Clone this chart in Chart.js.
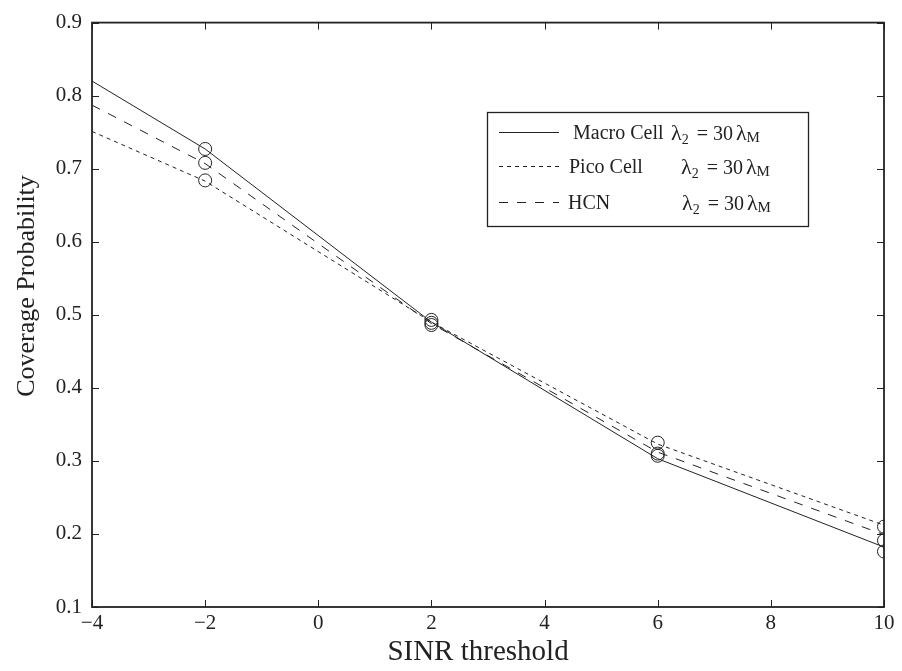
<!DOCTYPE html>
<html>
<head>
<meta charset="utf-8">
<script src="https://cdn.jsdelivr.net/npm/chart.js@4/dist/chart.umd.min.js"></script>
<style>
html,body{margin:0;padding:0;background:#fff;}
#wrap{width:902px;height:671px;}
</style>
</head>
<body>
<div id="wrap"><canvas id="c" width="902" height="671"></canvas></div>
<script>
// ---- data ----
const xLine = [-4, -2, 2, 6, 10];
const macroLine = [0.820, 0.727, 0.490, 0.303, 0.182];
const picoLine  = [0.751, 0.683, 0.490, 0.323, 0.212];
const hcnLine   = [0.787, 0.707, 0.488, 0.312, 0.199];

const xSim = [-2, 2, 6, 10];
const macroSim = [0.727, 0.486, 0.307, 0.176];
const picoSim  = [0.684, 0.493, 0.325, 0.210];
const hcnSim   = [0.708, 0.489, 0.310, 0.191];

const xTicks = [-4, -2, 0, 2, 4, 6, 8, 10];
const yTicks = [0.1, 0.2, 0.3, 0.4, 0.5, 0.6, 0.7, 0.8, 0.9];

const seriesNames = ['Macro Cell', 'Pico Cell', 'HCN'];
const xTitle = 'SINR threshold';
const yTitle = 'Coverage Probability';

const FONT = '"Liberation Serif", "Times New Roman", serif';

function pts(xs, ys){ return xs.map((x,i)=>({x:x, y:ys[i]})); }

const lineStyle = {borderColor:'#222', borderWidth:1, pointRadius:0, showLine:true, fill:false, tension:0};
const simStyle = {showLine:false, pointStyle:'circle', pointRadius:6.5, pointBorderColor:'#222', pointBackgroundColor:'rgba(0,0,0,0)', pointBorderWidth:1};

const frameTicks = {
  id:'frameTicks',
  afterDraw(chart){
    const ctx = chart.ctx, a = chart.chartArea;
    const xs = chart.scales.x, ys = chart.scales.y;
    ctx.save();
    ctx.strokeStyle = '#222';
    ctx.lineWidth = 1;
    const L = 7;
    ctx.beginPath();
    xTicks.forEach(v=>{
      const px = Math.round(xs.getPixelForValue(v)) + 0.5;
      ctx.moveTo(px, a.bottom); ctx.lineTo(px, a.bottom - L);
      ctx.moveTo(px, a.top); ctx.lineTo(px, a.top + L);
    });
    yTicks.forEach(v=>{
      const py = Math.round(ys.getPixelForValue(v)) + 0.5;
      ctx.moveTo(a.left, py); ctx.lineTo(a.left + L, py);
      ctx.moveTo(a.right, py); ctx.lineTo(a.right - L, py);
    });
    ctx.stroke();
    ctx.lineWidth = 1.8;
    ctx.strokeRect(a.left, a.top, a.right - a.left, a.bottom - a.top);

    // axis titles
    ctx.fillStyle = '#222';
    ctx.textAlign = 'center';
    ctx.textBaseline = 'alphabetic';
    ctx.font = '29px ' + FONT;
    ctx.fillText(xTitle, 478, 660);
    ctx.save();
    ctx.translate(34, 286);
    ctx.rotate(-Math.PI/2);
    ctx.font = '26px ' + FONT;
    ctx.fillText(yTitle, 0, 0);
    ctx.restore();

    // legend
    const bx = 487, by = 112, bw = 321, bh = 114;
    ctx.fillStyle = '#fff';
    ctx.fillRect(bx, by, bw, bh);
    ctx.lineWidth = 1.3;
    ctx.strokeRect(bx + 0.5, by + 0.5, bw, bh);
    const rows = [
      {y:132, dash:[], tx:573, lx:671},
      {y:166, dash:[4,4], tx:569, lx:681},
      {y:202, dash:[9,9], tx:568, lx:682}
    ];
    rows.forEach((r,i)=>{
      ctx.beginPath();
      ctx.lineWidth = 1;
      ctx.setLineDash(r.dash);
      ctx.moveTo(499, r.y + 0.5); ctx.lineTo(559, r.y + 0.5);
      ctx.stroke();
      ctx.setLineDash([]);
      ctx.fillStyle = '#222';
      ctx.textBaseline = 'alphabetic';
      ctx.textAlign = 'left';
      ctx.font = '20px ' + FONT;
      ctx.fillText(seriesNames[i], r.tx, r.y + 7);
      // lambda_2 = 30 lambda_M
      let x = r.lx;
      ctx.font = '22px ' + FONT;
      ctx.fillText('λ', x, r.y + 8);
      x += ctx.measureText('λ').width;
      ctx.font = '14px ' + FONT;
      ctx.fillText('2', x, r.y + 12);
      x += ctx.measureText('2').width + 8;
      ctx.font = '20px ' + FONT;
      ctx.fillText('= 30 ', x, r.y + 8);
      x += ctx.measureText('= 30 ').width - 2;
      ctx.font = '22px ' + FONT;
      ctx.fillText('λ', x, r.y + 8);
      x += ctx.measureText('λ').width;
      ctx.font = '15px ' + FONT;
      ctx.fillText('M', x, r.y + 10);
    });
    ctx.restore();
  }
};

new Chart(document.getElementById('c'), {
  type: 'scatter',
  data: {
    datasets: [
      Object.assign({label: seriesNames[0], data: pts(xLine, macroLine)}, lineStyle),
      Object.assign({label: seriesNames[1], data: pts(xLine, picoLine), borderDash:[4,4]}, lineStyle),
      Object.assign({label: seriesNames[2], data: pts(xLine, hcnLine), borderDash:[9,9]}, lineStyle),
      Object.assign({label: 'sim1', data: pts(xSim, macroSim)}, simStyle),
      Object.assign({label: 'sim2', data: pts(xSim, picoSim)}, simStyle),
      Object.assign({label: 'sim3', data: pts(xSim, hcnSim)}, simStyle)
    ]
  },
  options: {
    responsive: false,
    animation: false,
    devicePixelRatio: 1,
    layout: {padding: {left: 0, top: 14, right: 18, bottom: 0}},
    plugins: {legend: {display: false}, tooltip: {enabled: false}},
    scales: {
      x: {
        type: 'linear', min: -4, max: 10,
        afterBuildTicks(s){ s.ticks = xTicks.map(v=>({value:v})); },
        afterFit(s){ s.height = 64; },
        grid: {display: false, drawTicks: false},
        border: {display: false},
        ticks: {
          padding: 4, color: '#222', maxRotation: 0,
          font: {family: FONT, size: 21},
          callback: v => String(v).replace('-', '\u2212')
        },
        title: {display: false, text: xTitle}
      },
      y: {
        type: 'linear', min: 0.1, max: 0.9,
        afterBuildTicks(s){ s.ticks = yTicks.map(v=>({value:v})); },
        afterFit(s){ s.width = 92; },
        grid: {display: false, drawTicks: false},
        border: {display: false},
        ticks: {
          padding: 10, color: '#222',
          font: {family: FONT, size: 21},
          callback: v => v.toFixed(1)
        },
        title: {display: false, text: yTitle}
      }
    }
  },
  plugins: [frameTicks]
});
</script>
</body>
</html>
